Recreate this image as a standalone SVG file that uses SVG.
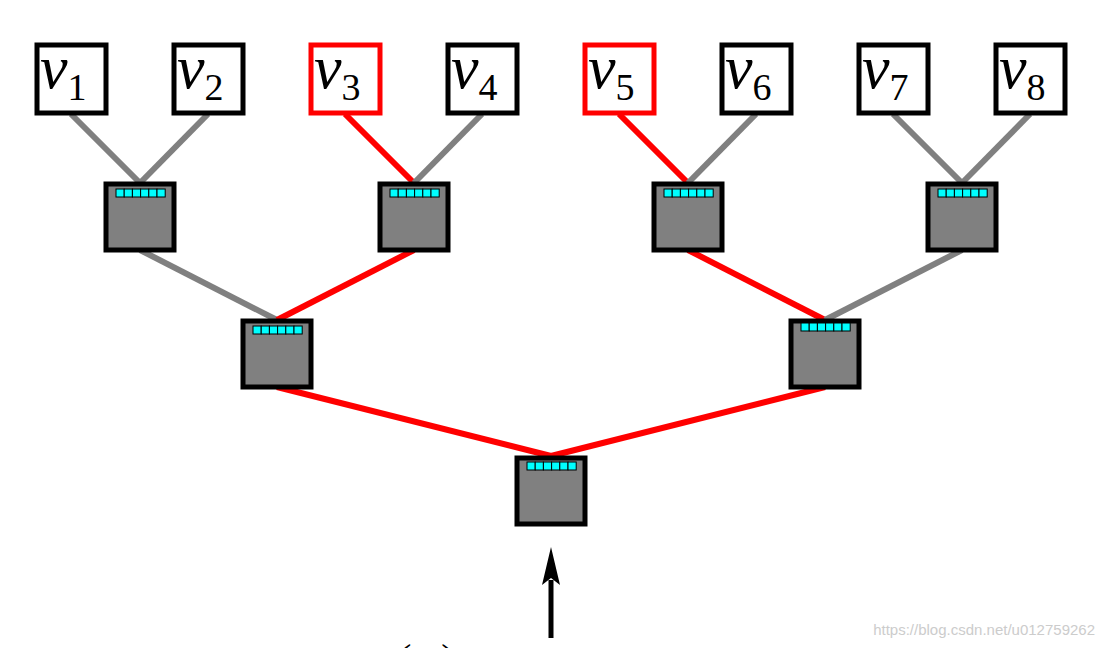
<svg xmlns="http://www.w3.org/2000/svg" width="1104" height="648" viewBox="0 0 1104 648">
<style>
.leaf{fill:#fff;stroke:#000;stroke-width:5}
.red{stroke:#f00}
.sw{fill:#808080;stroke:#000;stroke-width:5}
.cell{fill:#0ff;stroke:#000;stroke-width:1}
.g{stroke:#808080;stroke-width:6;fill:none}
.r{stroke:#f00;stroke-width:6;fill:none}
.v{font-family:"Liberation Serif",serif;font-style:italic;font-size:62px}
.s{font-family:"Liberation Serif",serif;font-size:38px;font-style:normal}
</style>
<defs>
<g id="bar">
<rect class="cell" x="0" y="0" width="8.2" height="8"/><rect class="cell" x="8.2" y="0" width="8.2" height="8"/><rect class="cell" x="16.4" y="0" width="8.2" height="8"/><rect class="cell" x="24.6" y="0" width="8.2" height="8"/><rect class="cell" x="32.8" y="0" width="8.2" height="8"/><rect class="cell" x="41" y="0" width="8.2" height="8"/>
</g>
</defs>
<g id="connectors">
<line class="g" x1="71" y1="114" x2="140" y2="183"/>
<line class="g" x1="208" y1="114" x2="140" y2="183"/>
<line class="r" x1="345" y1="114" x2="414" y2="183"/>
<line class="g" x1="482" y1="114" x2="414" y2="183"/>
<line class="r" x1="619" y1="114" x2="688" y2="183"/>
<line class="g" x1="756" y1="114" x2="688" y2="183"/>
<line class="g" x1="893" y1="114" x2="962" y2="183"/>
<line class="g" x1="1030" y1="114" x2="962" y2="183"/>
<line class="g" x1="140" y1="250" x2="277" y2="320"/>
<line class="r" x1="414" y1="250" x2="277" y2="320"/>
<line class="r" x1="688" y1="250" x2="825" y2="320"/>
<line class="g" x1="962" y1="250" x2="825" y2="320"/>
<line class="r" x1="277" y1="387" x2="551" y2="456"/>
<line class="r" x1="825" y1="387" x2="551" y2="456"/>
<line x1="551" y1="638" x2="551" y2="580" stroke="#000" stroke-width="5"/>
<path d="M551,547 L560,585 L551,578 L542,585 Z" fill="#000"/>
</g>
<g id="v1"><rect class="leaf" x="37" y="45" width="69" height="68"/><text class="v" x="40" y="88">v<tspan class="s" dy="12">1</tspan></text></g>
<g id="v2"><rect class="leaf" x="174" y="45" width="69" height="68"/><text class="v" x="177" y="88">v<tspan class="s" dy="12">2</tspan></text></g>
<g id="v3"><rect class="leaf red" x="311" y="45" width="69" height="68"/><text class="v" x="314" y="88">v<tspan class="s" dy="12">3</tspan></text></g>
<g id="v4"><rect class="leaf" x="448" y="45" width="69" height="68"/><text class="v" x="451" y="88">v<tspan class="s" dy="12">4</tspan></text></g>
<g id="v5"><rect class="leaf red" x="585" y="45" width="69" height="68"/><text class="v" x="588" y="88">v<tspan class="s" dy="12">5</tspan></text></g>
<g id="v6"><rect class="leaf" x="722" y="45" width="69" height="68"/><text class="v" x="725" y="88">v<tspan class="s" dy="12">6</tspan></text></g>
<g id="v7"><rect class="leaf" x="859" y="45" width="69" height="68"/><text class="v" x="862" y="88">v<tspan class="s" dy="12">7</tspan></text></g>
<g id="v8"><rect class="leaf" x="996" y="45" width="69" height="68"/><text class="v" x="999" y="88">v<tspan class="s" dy="12">8</tspan></text></g>
<g id="s1"><rect class="sw" x="106" y="184" width="68" height="66"/><use href="#bar" x="116" y="189"/></g>
<g id="s2"><rect class="sw" x="380" y="184" width="68" height="66"/><use href="#bar" x="390" y="189"/></g>
<g id="s3"><rect class="sw" x="654" y="184" width="68" height="66"/><use href="#bar" x="664" y="189"/></g>
<g id="s4"><rect class="sw" x="928" y="184" width="68" height="66"/><use href="#bar" x="938" y="189"/></g>
<g id="s5"><rect class="sw" x="243" y="321" width="68" height="66"/><use href="#bar" x="253" y="326"/></g>
<g id="s6"><rect class="sw" x="791" y="321" width="68" height="66"/><use href="#bar" x="801" y="323"/></g>
<g id="root"><rect class="sw" x="517" y="458" width="68" height="66"/><use href="#bar" x="527" y="462"/></g>
<text x="398" y="672" font-family="Liberation Serif,serif" font-size="40">(   , )</text>
<text x="1095" y="635" text-anchor="end" font-family="Liberation Sans,sans-serif" font-size="15" fill="#ccc">https://blog.csdn.net/u012759262</text>
</svg>
